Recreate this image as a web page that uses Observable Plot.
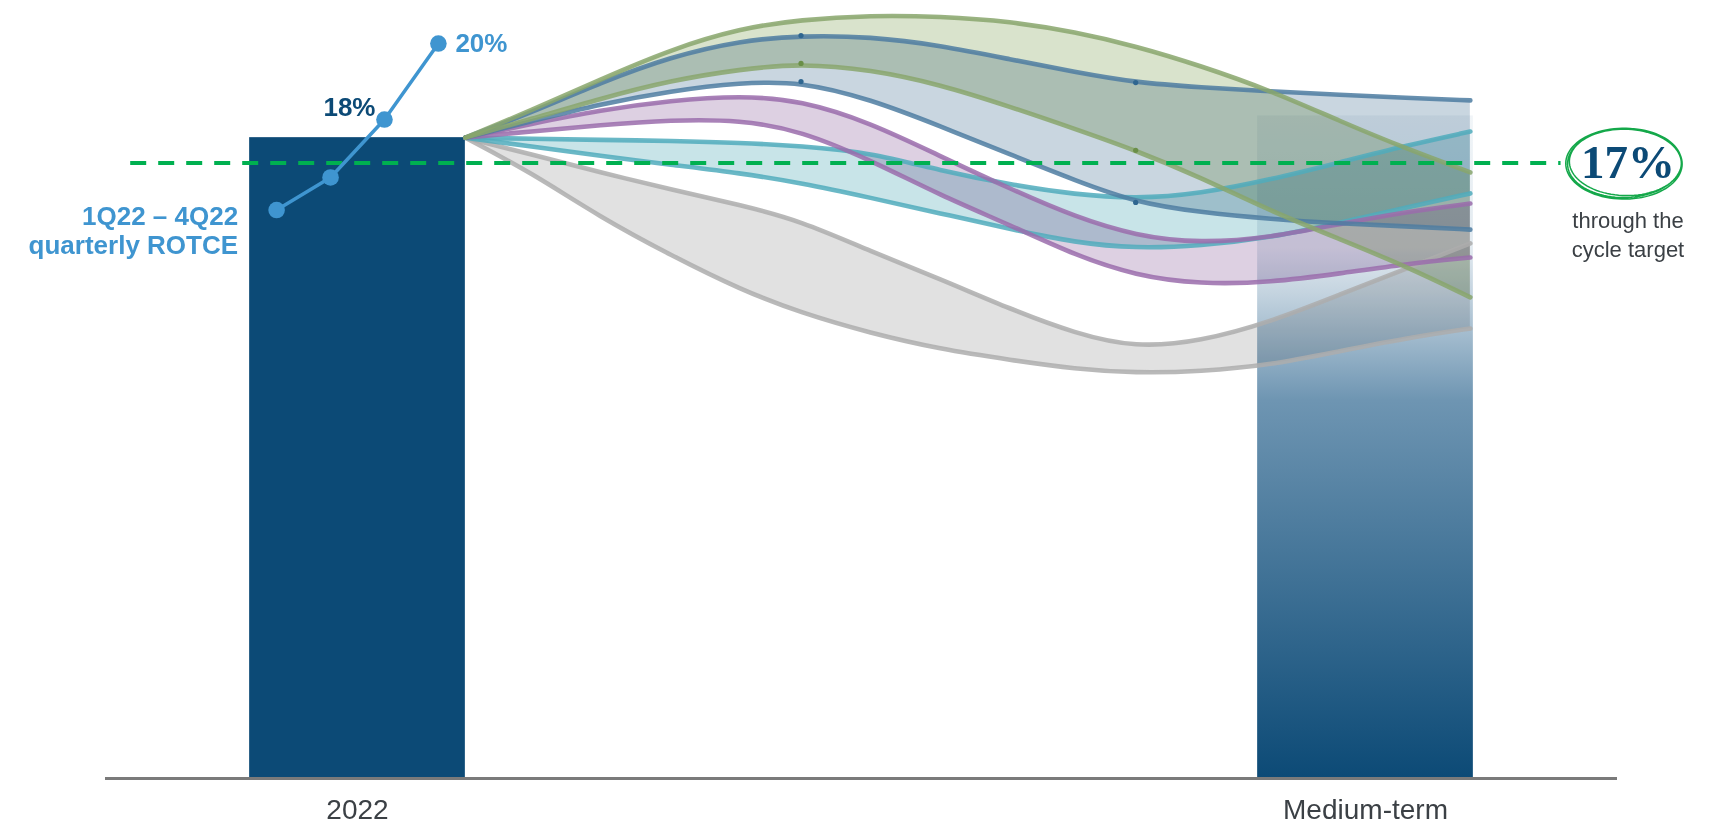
<!DOCTYPE html>
<html>
<head>
<meta charset="utf-8">
<script src="https://cdn.jsdelivr.net/npm/d3@7"></script>
<script src="https://cdn.jsdelivr.net/npm/@observablehq/plot@0.6"></script>
<style>
  html, body { margin: 0; padding: 0; background: #ffffff; }
  #chart svg { display: block; }
</style>
</head>
<body>
<div id="chart"></div>
<script>
// ---------------- DATA ----------------
const periods = ["2022", "Medium-term"];
const periodROTCE = [17.7, 18.3];           // bar heights (%)
const target = 17;                           // through-the-cycle target (%)
const quarters = ["1Q22", "2Q22", "3Q22", "4Q22"];
const quarterlyROTCE = [15.7, 16.6, 18.2, 20.3];

// sample positions along the path from the 2022 bar (0) to the Medium-term bar (1)
const flowX = [0.107, 0.172, 0.241, 0.311, 0.380, 0.440, 0.509, 0.578, 0.648, 0.712, 0.772, 0.836, 0.906, 0.975, 1.040, 1.104];
const greenUpper  = [17.70, 18.45, 19.31, 20.14, 20.72, 20.96, 21.08, 21.05, 20.91, 20.62, 20.23, 19.69, 19.00, 18.15, 17.40, 16.74];
const greenLower  = [17.70, 18.21, 18.78, 19.28, 19.59, 19.75, 19.58, 19.17, 18.55, 17.94, 17.35, 16.61, 15.67, 14.89, 14.15, 13.29];
const blueUpper   = [17.70, 18.39, 19.22, 19.94, 20.38, 20.52, 20.49, 20.25, 19.86, 19.51, 19.22, 19.09, 18.98, 18.88, 18.80, 18.73];
const blueLower   = [17.70, 18.15, 18.63, 18.99, 19.22, 19.25, 18.76, 18.02, 17.23, 16.52, 15.91, 15.64, 15.45, 15.33, 15.25, 15.16];
const purpleUpper = [17.70, 18.08, 18.46, 18.73, 18.86, 18.73, 18.11, 17.19, 16.28, 15.51, 14.99, 14.78, 14.94, 15.32, 15.65, 15.88];
const purpleLower = [17.70, 17.87, 18.05, 18.19, 18.19, 17.89, 17.08, 16.11, 15.28, 14.45, 13.89, 13.65, 13.70, 13.95, 14.21, 14.39];
const tealUpper   = [17.70, 17.67, 17.64, 17.61, 17.56, 17.47, 17.29, 16.79, 16.40, 16.13, 16.01, 16.15, 16.54, 17.02, 17.48, 17.87];
const tealLower   = [17.70, 17.46, 17.20, 16.95, 16.72, 16.45, 16.04, 15.61, 15.17, 14.80, 14.64, 14.71, 14.94, 15.35, 15.77, 16.16];
const grayUpper   = [17.70, 17.24, 16.74, 16.27, 15.84, 15.40, 14.56, 13.80, 12.96, 12.29, 11.90, 12.07, 12.61, 13.37, 14.08, 14.78];
const grayLower   = [17.70, 16.74, 15.50, 14.45, 13.50, 12.86, 12.30, 11.86, 11.56, 11.31, 11.20, 11.24, 11.42, 11.81, 12.16, 12.43];
const knotIndex = [5, 10];

// ---------------- STYLE / LAYOUT ----------------
const FONT = "'Liberation Sans', Arial, Helvetica, sans-serif";
const navy = "#0c4a76", lightBlue = "#3f95d0", targetGreen = "#00b050", axisText = "#3b4045";
const barHalf = 0.107;
const CURVE = "basis";
const bands = [
  {upper: grayUpper,   lower: grayLower,   line: "#adadad", fill: "#e1e1e1", knots: []},
  {upper: tealUpper,   lower: tealLower,   line: "#50acbc", fill: "#c8e4e8", knots: []},
  {upper: purpleUpper, lower: purpleLower, line: "#9a6cab", fill: "#ddd0e2", knots: []},
  {upper: blueUpper,   lower: blueLower,   line: "#4e7ca1", fill: "#c9d6e0", knots: ["upper", "lower"], dot: "#2f6690"},
  {upper: greenUpper,  lower: greenLower,  line: "#88a66c", fill: "#d9e3cc", knots: ["lower"], dot: "#6a8f48"}
];

const barRows = periods.map((p, i) => ({p, i, v: periodROTCE[i]}));
const qRows = quarters.map((q, i) => ({q, x: (i - 1.5) * 0.0535, v: quarterlyROTCE[i],
  label: i >= 2 ? Math.round(quarterlyROTCE[i]) + "%" : null}));

const areaMarks = [], lineMarks = [], dotMarks = [];
for (const b of bands) {
  const rows = flowX.map((x, i) => ({x, upper: b.upper[i], lower: b.lower[i]}));
  areaMarks.push(Plot.areaY(rows, {x: "x", y1: "upper", y2: "lower", curve: CURVE,
    fill: b.fill, mixBlendMode: "multiply"}));
  for (const key of ["upper", "lower"]) {
    lineMarks.push(Plot.line(rows, {x: "x", y: key, curve: CURVE,
      stroke: b.line, strokeWidth: 4.6, strokeOpacity: 0.85, strokeLinecap: "round"}));
  }
  for (const key of b.knots) {
    dotMarks.push(Plot.dot(knotIndex.map(k => rows[k]), {x: "x", y: key, r: 2.6, fill: b.dot}));
  }
}

// hand-drawn style ellipse around the target
const handEllipse = {
  draw(ctx) {
    const passes = [[57, 34.5, -0.02, 0, 0], [56, 33.2, 0.025, 0.8, -0.6], [58.2, 35.4, 0.005, -0.6, 0.7]];
    for (const [rx, ry, rot, ox, oy] of passes) {
      const n = 90;
      for (let k = 0; k <= n; k++) {
        const t = (k / n) * 2 * Math.PI;
        const ex = rx * Math.cos(t), ey = ry * Math.sin(t);
        const X = ox + ex * Math.cos(rot) - ey * Math.sin(rot);
        const Y = oy + ex * Math.sin(rot) + ey * Math.cos(rot);
        if (k === 0) ctx.moveTo(X, Y); else ctx.lineTo(X, Y);
      }
      ctx.closePath();
    }
  }
};

const chart = Plot.plot({
  width: 1721,
  height: 826,
  margin: 0,
  x: {domain: [-0.25, 1.25], range: [105, 1617], axis: null},
  y: {domain: [0, 17], range: [778, 162.5], axis: null},
  style: {fontFamily: FONT, background: "#ffffff", overflow: "visible"},
  marks: [
    // bars
    Plot.rect(barRows, {x1: d => d.i - barHalf, x2: d => d.i + barHalf, y1: () => 0, y2: "v",
      fill: d => d.i === 0 ? navy : "url(#mtGrad)"}),
    // baseline
    Plot.ruleY([0], {x1: -0.25, x2: 1.25, stroke: "#7a7a7a", strokeWidth: 3}),
    // flows
    ...areaMarks,
    ...lineMarks,
    ...dotMarks,
    // target line
    Plot.ruleY([target], {x1: -0.225, x2: 1.194, stroke: targetGreen, strokeWidth: 4, strokeDasharray: "16,12"}),
    // quarterly ROTCE
    Plot.line(qRows, {x: "x", y: "v", stroke: lightBlue, strokeWidth: 3.5}),
    Plot.dot(qRows, {x: "x", y: "v", r: 8.3, fill: lightBlue}),
    Plot.text(qRows.filter(d => d.q === "3Q22"), {x: "x", y: "v", text: "label", textAnchor: "end",
      dx: -9, dy: -12, fontSize: 26, fontWeight: "bold", fill: navy}),
    Plot.text(qRows.filter(d => d.q === "4Q22"), {x: "x", y: "v", text: "label", textAnchor: "start",
      dx: 17, dy: 0, fontSize: 26, fontWeight: "bold", fill: lightBlue}),
    Plot.text(qRows.filter(d => d.q === "1Q22"), {x: "x", y: "v",
      text: () => `${quarters[0]} – ${quarters[3]}\nquarterly ROTCE`, textAnchor: "end", lineAnchor: "top",
      lineHeight: 1.12, dx: -38.5, dy: -5.5, fontSize: 26, fontWeight: "bold", fill: lightBlue}),
    // period labels
    Plot.text(barRows, {x: "i", y: () => 0, text: "p", dy: 32, fontSize: 28, fill: axisText}),
    // target annotation
    Plot.dot([{x: 1.257, v: target}], {x: "x", y: "v", symbol: handEllipse, fill: "none",
      stroke: "#14a84a", strokeWidth: 1.5}),
    Plot.text([{x: 1.2604, v: target}], {x: "x", y: "v", text: d => d.v + "%",
      fontFamily: "'Liberation Serif', 'Times New Roman', serif", fontWeight: "bold", fontSize: 47, fill: navy}),
    Plot.text([{x: 1.2604, v: target}], {x: "x", y: "v", text: () => "through the\ncycle target",
      lineAnchor: "top", lineHeight: 1.32, dy: 44, fontSize: 22, fill: axisText})
  ]
});

// gradient for the Medium-term bar
const defs = d3.select(chart).insert("defs", ":first-child");
const grad = defs.append("linearGradient").attr("id", "mtGrad")
  .attr("x1", 0).attr("y1", 0).attr("x2", 0).attr("y2", 1);
[[0, "#f1f5f8"], [0.2, "#e2eaf0"], [0.27, "#c3d3df"], [0.43, "#6e95b2"], [1, "#0c4a76"]].forEach(([o, c]) =>
  grad.append("stop").attr("offset", o).attr("stop-color", c));

document.getElementById("chart").appendChild(chart);
</script>
</body>
</html>
